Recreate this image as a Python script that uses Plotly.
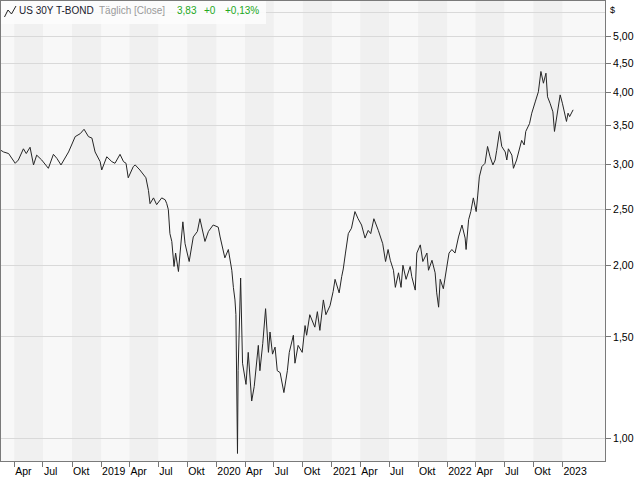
import math
import pandas as pd
import plotly.graph_objects as go

# ---- data ----
dates = [
    "2018-02-18", "2018-02-26", "2018-03-14", "2018-03-24", "2018-04-04", "2018-04-14",
    "2018-04-30", "2018-05-09", "2018-05-21", "2018-06-01", "2018-06-11", "2018-06-27",
    "2018-07-18", "2018-08-03", "2018-08-14", "2018-08-27", "2018-09-20", "2018-10-11",
    "2018-10-18", "2018-10-27", "2018-11-08", "2018-11-22", "2018-12-03", "2018-12-13",
    "2018-12-29", "2019-01-03", "2019-01-19", "2019-02-04", "2019-02-14", "2019-03-02",
    "2019-03-13", "2019-03-21", "2019-03-28", "2019-04-13", "2019-04-19", "2019-05-04",
    "2019-05-23", "2019-05-31", "2019-06-05", "2019-06-16", "2019-06-26", "2019-07-12",
    "2019-07-23", "2019-07-28", "2019-08-02", "2019-08-07", "2019-08-13", "2019-08-20",
    "2019-08-25", "2019-09-03", "2019-09-17", "2019-09-24", "2019-10-07", "2019-10-20",
    "2019-11-02", "2019-11-10", "2019-11-26", "2019-12-07", "2019-12-22", "2020-01-07",
    "2020-01-13", "2020-01-28", "2020-02-08", "2020-02-19", "2020-02-24", "2020-02-29",
    "2020-03-03", "2020-03-05", "2020-03-08", "2020-03-10", "2020-03-13", "2020-03-18",
    "2020-03-24", "2020-04-04", "2020-04-11", "2020-04-22", "2020-04-30", "2020-05-13",
    "2020-05-18", "2020-05-27", "2020-06-05", "2020-06-14", "2020-06-19", "2020-06-27",
    "2020-07-05", "2020-07-12", "2020-07-21", "2020-08-02", "2020-08-13", "2020-08-19",
    "2020-09-01", "2020-09-06", "2020-09-16", "2020-09-29", "2020-10-08", "2020-10-13",
    "2020-10-23", "2020-11-08", "2020-11-16", "2020-11-24", "2020-12-05", "2020-12-13",
    "2020-12-26", "2021-01-05", "2021-01-11", "2021-01-24", "2021-02-01", "2021-02-06",
    "2021-02-13", "2021-02-22", "2021-03-04", "2021-03-15", "2021-03-25", "2021-04-05",
    "2021-04-16", "2021-04-26", "2021-05-04", "2021-05-14", "2021-05-28", "2021-06-11",
    "2021-06-20", "2021-06-28", "2021-07-05", "2021-07-15", "2021-07-21", "2021-07-31",
    "2021-08-08", "2021-08-14", "2021-08-24", "2021-09-06", "2021-09-11", "2021-09-22",
    "2021-09-27", "2021-10-08", "2021-10-16", "2021-10-29", "2021-11-03", "2021-11-14",
    "2021-11-24", "2021-11-29", "2021-12-05", "2021-12-10", "2021-12-20", "2021-12-31",
    "2022-01-07", "2022-01-16", "2022-01-26", "2022-02-06", "2022-02-17", "2022-02-27",
    "2022-03-02", "2022-03-10", "2022-03-17", "2022-03-25", "2022-04-03", "2022-04-08",
    "2022-04-13", "2022-04-21", "2022-05-01", "2022-05-09", "2022-05-17", "2022-05-26",
    "2022-06-02", "2022-06-07", "2022-06-16", "2022-06-23", "2022-07-04", "2022-07-09",
    "2022-07-14", "2022-07-25", "2022-07-30", "2022-08-09", "2022-08-18", "2022-08-25",
    "2022-09-02", "2022-09-07", "2022-09-19", "2022-09-26", "2022-10-07", "2022-10-17",
    "2022-10-25", "2022-11-02", "2022-11-10", "2022-11-15", "2022-11-23", "2022-12-02",
    "2022-12-07", "2022-12-14", "2022-12-25", "2023-01-01", "2023-01-09", "2023-01-14",
    "2023-01-19", "2023-01-24", "2023-02-04",
]
values = [
    3.17, 3.15, 3.13, 3.07, 3.01, 3.05,
    3.19, 3.13, 3.21, 2.99, 3.11, 3.05,
    2.95, 3.12, 3.07, 2.99, 3.15, 3.35,
    3.37, 3.39, 3.45, 3.35, 3.33, 3.15,
    3.03, 2.93, 3.09, 3.03, 3.01, 3.12,
    3.03, 3.01, 2.84, 2.97, 2.99, 2.93,
    2.84, 2.70, 2.56, 2.62, 2.55, 2.62,
    2.60, 2.56, 2.50, 2.27, 2.20, 1.99,
    2.10, 1.95, 2.38, 2.18, 2.03, 2.24,
    2.29, 2.41, 2.20, 2.29, 2.35, 2.33,
    2.24, 2.06, 2.13, 1.96, 1.83, 1.74,
    1.64, 1.25, 0.94, 1.31, 1.52, 1.90,
    1.35, 1.24, 1.41, 1.16, 1.23, 1.45,
    1.31, 1.46, 1.68, 1.41, 1.53, 1.40,
    1.44, 1.31, 1.30, 1.20, 1.31, 1.41,
    1.51, 1.35, 1.45, 1.41, 1.57, 1.51,
    1.64, 1.56, 1.66, 1.54, 1.74, 1.64,
    1.70, 1.80, 1.89, 1.79, 1.91, 1.97,
    2.10, 2.27, 2.32, 2.48, 2.41, 2.35,
    2.23, 2.30, 2.27, 2.41, 2.30, 2.18,
    2.03, 2.13, 2.04, 1.96, 1.83, 1.94,
    1.83, 2.00, 1.89, 1.99, 1.91, 1.81,
    2.10, 2.17, 2.03, 2.10, 1.96, 2.04,
    1.94, 1.79, 1.69, 1.89, 1.82, 1.97,
    2.10, 2.13, 2.10, 2.24, 2.35, 2.23,
    2.13, 2.40, 2.48, 2.62, 2.48, 2.65,
    2.85, 2.97, 3.01, 3.22, 3.09, 2.99,
    3.05, 3.17, 3.42, 3.22, 3.15, 3.05,
    3.19, 3.11, 2.95, 3.05, 3.17, 3.30,
    3.24, 3.42, 3.53, 3.68, 3.85, 4.01,
    4.35, 4.15, 4.32, 3.93, 3.83, 3.70,
    3.42, 3.61, 3.96, 3.83, 3.66, 3.56,
    3.68, 3.63, 3.73,
]

x_tick_vals = [
    "2018-04-01", "2018-07-01", "2018-10-01", "2019-01-01", "2019-04-01", "2019-07-01",
    "2019-10-01", "2020-01-01", "2020-04-01", "2020-07-01", "2020-10-01", "2021-01-01",
    "2021-04-01", "2021-07-01", "2021-10-01", "2022-01-01", "2022-04-01", "2022-07-01",
    "2022-10-01", "2023-01-01",
]
x_tick_text = [
    "Apr", "Jul", "Okt", "2019", "Apr", "Jul", "Okt", "2020", "Apr", "Jul", "Okt", "2021",
    "Apr", "Jul", "Okt", "2022", "Apr", "Jul", "Okt", "2023",
]
y_tick_vals = [1.0, 1.5, 2.0, 2.5, 3.0, 3.5, 4.0, 4.5, 5.0]
y_tick_text = ["1,00", "1,50", "2,00", "2,50", "3,00", "3,50", "4,00", "4,50", "5,00"]
y_extra_grid = [5.5]

title_name = "US 30Y T-BOND"
title_mode = "Täglich [Close]"
last_value = "3,83"
last_change = "+0"
last_change_pct = "+0,13%"

# ---- layout constants ----
W, H = 640, 480
ML, MR, MT, MB = 1, 35, 1, 19
PW = W - ML - MR
PH = H - MT - MB
FONT = "Liberation Sans"
x_range = ["2018-02-18", "2023-05-16"]
y_range = [math.log10(0.912), math.log10(5.771)]


def px_x(p):
    return (p - ML) / PW


def px_y(p):
    return (H - MB - p) / PH


fig = go.Figure()
fig.add_trace(go.Scatter(
    x=dates, y=values, mode="lines",
    line=dict(color="#262626", width=1),
    hoverinfo="skip", showlegend=False,
))

shapes = []
# alternating quarter bands
for q in pd.date_range("2018-04-01", "2022-10-01", freq="6MS"):
    shapes.append(dict(
        type="rect", xref="x", yref="paper", layer="below",
        x0=q.strftime("%Y-%m-%d"),
        x1=(q + pd.DateOffset(months=3)).strftime("%Y-%m-%d"),
        y0=0, y1=1, fillcolor="#f0f0f0", line=dict(width=0),
    ))
# header box
shapes.append(dict(
    type="rect", xref="paper", yref="paper", layer="above",
    x0=px_x(1), x1=px_x(266), y0=px_y(24), y1=px_y(1),
    fillcolor="rgba(252,252,252,0.92)", line=dict(width=0),
))
# small line icon
pts = [(4.5, 17), (8, 10), (11.5, 14), (16, 6)]
path = "M " + " L ".join(f"{px_x(a):.5f},{px_y(b):.5f}" for a, b in pts)
shapes.append(dict(
    type="path", xref="paper", yref="paper", layer="above", path=path,
    line=dict(color="#222222", width=1),
))

annotations = []
hdr = [
    (18, title_name, "#1a1a2e"),
    (98, title_mode, "#9a9a9a"),
    (176, last_value, "#22a822"),
    (203, last_change, "#22a822"),
    (224, last_change_pct, "#22a822"),
]
for xp, txt, col in hdr:
    annotations.append(dict(
        xref="paper", yref="paper", x=px_x(xp), y=px_y(11),
        xanchor="left", yanchor="middle", text=txt, showarrow=False,
        font=dict(family=FONT, size=10, color=col), borderpad=0,
    ))
annotations.append(dict(
    xref="paper", yref="paper", x=px_x(609), y=px_y(10),
    xanchor="left", yanchor="middle", text="$", showarrow=False,
    font=dict(family=FONT, size=9, color="#000000"), borderpad=0,
))

fig.update_layout(
    width=W, height=H,
    margin=dict(l=ML, r=MR, t=MT, b=MB, pad=0, autoexpand=False),
    paper_bgcolor="#ffffff",
    plot_bgcolor="#f8f8f8",
    shapes=shapes,
    annotations=annotations,
    showlegend=False,
    font=dict(family=FONT, size=10.5, color="#000000"),
    xaxis=dict(
        type="date", range=x_range, automargin=False,
        tickmode="array", tickvals=x_tick_vals, ticktext=x_tick_text,
        tickangle=0,
        ticks="outside", ticklen=5, tickcolor="#777777", tickwidth=1,
        ticklabelposition="outside right",
        showgrid=False, zeroline=False,
        showline=True, mirror=True, linecolor="#7a7a7a", linewidth=1,
        tickfont=dict(family=FONT, size=10.5, color="#000000"),
        fixedrange=True,
    ),
    yaxis=dict(
        type="log", range=y_range, side="right", automargin=False,
        tickmode="array", tickvals=y_tick_vals, ticktext=y_tick_text,
        ticks="outside", ticklen=5, tickcolor="#777777", tickwidth=1,
        showgrid=True, gridcolor="#d9d9d9", gridwidth=1,
        minor=dict(tickmode="array", tickvals=y_extra_grid, showgrid=True,
                   gridcolor="#d9d9d9", gridwidth=1, ticks=""),
        zeroline=False,
        showline=True, mirror=True, linecolor="#7a7a7a", linewidth=1,
        tickfont=dict(family=FONT, size=10.5, color="#000000"),
        fixedrange=True,
    ),
)

fig.write_html("out.html")
